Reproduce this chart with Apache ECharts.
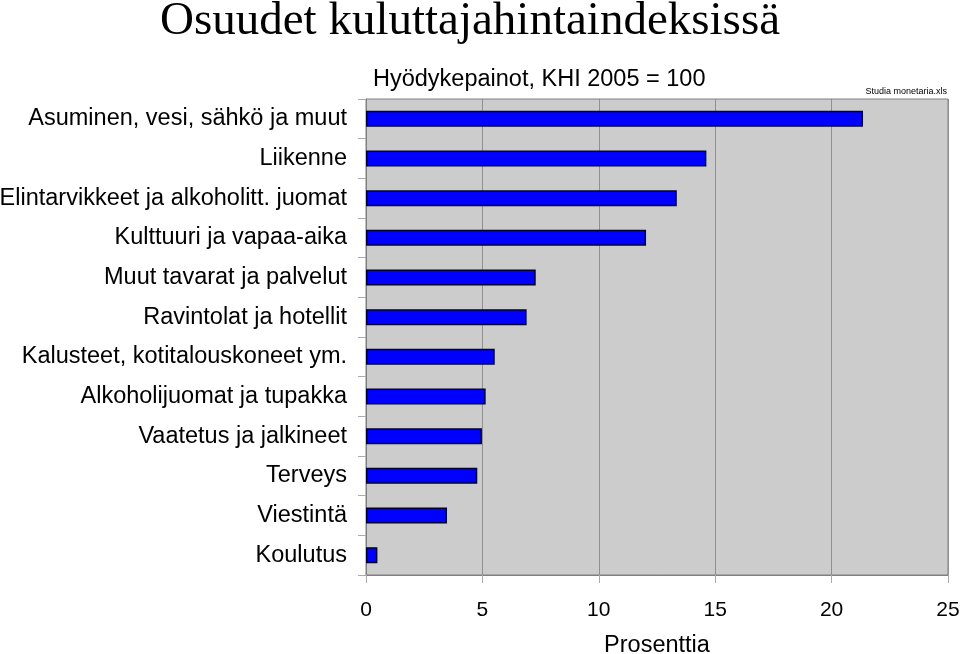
<!DOCTYPE html>
<html><head><meta charset="utf-8">
<script src="https://cdn.jsdelivr.net/npm/echarts@6/dist/echarts.min.js"></script>
<style>html,body{margin:0;padding:0;background:#fff;}#c{width:960px;height:654px;}</style>
</head><body><div id="c"></div>
<script>
var categories = [
  "Asuminen, vesi, sähkö ja muut",
  "Liikenne",
  "Elintarvikkeet ja alkoholitt. juomat",
  "Kulttuuri ja vapaa-aika",
  "Muut tavarat ja palvelut",
  "Ravintolat ja hotellit",
  "Kalusteet, kotitalouskoneet ym.",
  "Alkoholijuomat ja tupakka",
  "Vaatetus ja jalkineet",
  "Terveys",
  "Viestintä",
  "Koulutus"
];
var values = [21.35, 14.62, 13.35, 12.03, 7.29, 6.9, 5.53, 5.14, 4.98, 4.78, 3.48, 0.49];
var xTicks = [0, 5, 10, 15, 20, 25];

var chart = echarts.init(document.getElementById('c'), null, {renderer: 'canvas'});
chart.setOption({
  animation: false,
  backgroundColor: '#ffffff',
  title: [
    {text: 'Osuudet kuluttajahintaindeksissä', left: 155, top: -7,
     textStyle: {fontFamily: 'Liberation Serif', fontSize: 47, fontWeight: 'normal', color: '#000'}},
    {text: 'Hyödykepainot, KHI 2005 = 100', left: 368, top: 63,
     textStyle: {fontFamily: 'Liberation Sans', fontSize: 23.5, fontWeight: 'normal', color: '#000'}},
    {text: 'Studia monetaria.xls', right: 8, top: 82,
     textStyle: {fontFamily: 'Liberation Sans', fontSize: 9, fontWeight: 'normal', color: '#000'}}
  ],
  grid: {left: 366, right: 12, top: 99, bottom: 79, show: true, containLabel: false,
         outerBoundsMode: 'none',
         backgroundColor: '#cccccc', borderColor: '#808080', borderWidth: 1},
  xAxis: {
    type: 'value', min: xTicks[0], max: xTicks[xTicks.length - 1], interval: 5,
    name: 'Prosenttia', nameLocation: 'middle', nameGap: 59,
    nameTextStyle: {fontFamily: 'Liberation Sans', fontSize: 23.5, color: '#000'},
    axisLine: {show: true, lineStyle: {color: '#808080'}},
    axisTick: {show: true, length: 8, lineStyle: {color: '#aaaaaa'}},
    axisLabel: {fontFamily: 'Liberation Sans', fontSize: 21, color: '#000', margin: 25},
    splitLine: {show: true, lineStyle: {color: '#909090', width: 1}}
  },
  yAxis: {
    type: 'category', data: categories, inverse: true,
    axisLine: {show: true, lineStyle: {color: '#808080'}},
    axisTick: {show: true, length: 8, alignWithLabel: false, lineStyle: {color: '#aaaaaa'}},
    axisLabel: {fontFamily: 'Liberation Sans', fontSize: 23.5, color: '#000', margin: 19},
    splitLine: {show: false}
  },
  series: [{
    type: 'bar', data: values, barWidth: 16,
    itemStyle: {color: '#0000ff', borderColor: '#000033', borderWidth: 1.5}
  }]
});
</script></body></html>
